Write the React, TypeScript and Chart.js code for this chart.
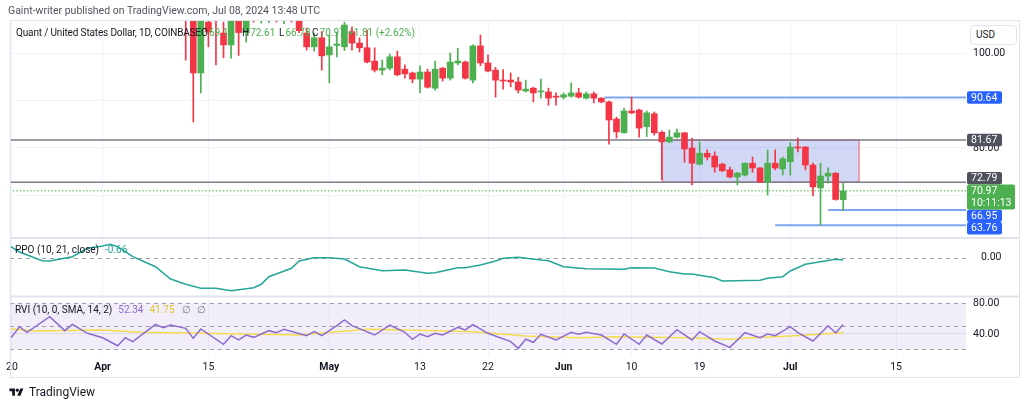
import React, { useEffect, useRef } from 'react';
import { Chart, registerables } from 'chart.js';

Chart.register(...registerables);

const FONT = 'Roboto, "Noto Sans", sans-serif';
const UP = '#4caf50';
const DOWN = '#f23645';
const BLUE = '#2962ff';
const GRAYBOX = '#50535e';
const TEAL = '#26a69a';
const PURPLE = '#8e6bd0';
const YELLOW = '#f5dc4f';

// x axis: day index counted from 2024-04-01 (= 0)
const X_MIN = -12.27;
const X_MAX = 114.25;
const tickDays = [-12, 0, 14, 30, 42, 51, 61, 70, 79, 91, 105];
const tickLabels = ['20', 'Apr', '15', 'May', '13', '22', 'Jun', '10', '19', 'Jul', '15'];
const monthLabels = ['Apr', 'May', 'Jun', 'Jul'];

// daily candles QNT/USD
const candleDays = [
  11, 12, 13, 14, 15, 16, 17, 18, 19, 20,
  21, 22, 23, 24, 25, 26, 27, 28, 29, 30,
  31, 32, 33, 34, 35, 36, 37, 38, 39, 40,
  41, 42, 43, 44, 45, 46, 47, 48, 49, 50,
  51, 52, 53, 54, 55, 56, 57, 58, 59, 60,
  61, 62, 63, 64, 65, 66, 67, 68, 69, 70,
  71, 72, 73, 74, 75, 76, 77, 78, 79, 80,
  81, 82, 83, 84, 85, 86, 87, 88, 89, 90,
  91, 92, 93, 94, 95, 96, 97, 98,
];
const opens = [
  118, 108, 95.8, 106.5, 109, 104.2, 101.7, 107.5, 104.3, 109,
  107, 108, 110, 107.5, 109, 108.5, 104.2, 101.3, 103.2, 99.6,
  101.6, 101.3, 104.5, 102.1, 101.1, 98.3, 96.4, 96.8, 99.2, 96.6,
  95.8, 94.5, 96, 92.6, 96.8, 94.7, 97.9, 98.1, 94.3, 101.5,
  97.9, 96.4, 94.3, 94.3, 93.9, 92.0, 92.6, 91.8, 91.8, 90.9,
  90.7, 90.9, 91.6, 90.5, 91.4, 90.5, 89.7, 86.1, 83.2, 87.8,
  88, 84.5, 87.2, 83.3, 81.3, 82.3, 83.2, 80, 76.6, 78.9,
  78.3, 76.6, 75.4, 73.9, 74.3, 76.8, 75.8, 72.8, 76.8, 75.6,
  77.1, 80.2, 80.2, 76.4, 71.6, 74.1, 74.7, 69.12,
];
const highs = [
  120, 109, 110, 109, 110, 106.5, 108, 108.5, 108, 110,
  109, 110, 111, 110, 110, 109.5, 105.3, 104.2, 104.5, 103.8,
  104.4, 106.5, 105.5, 103.2, 104.8, 101.1, 98.5, 99.8, 100.4, 97.5,
  96, 97.3, 96.6, 98.3, 97, 100, 101, 98.3, 101.7, 103.8,
  99.6, 97, 96.5, 95.8, 94.9, 94.3, 92.8, 94.5, 92.6, 91.6,
  91.6, 93.7, 92.6, 91.8, 91.8, 90.6, 89.9, 86.5, 88.4, 90.7,
  88.2, 87.8, 87.6, 83.6, 83.8, 84, 83.3, 82.1, 81.3, 79.6,
  79.2, 76.8, 76, 74.9, 76.9, 78.1, 75.9, 79.6, 79.6, 78.1,
  81.1, 82.1, 80.3, 76.8, 76.8, 75.8, 74.8, 72.61,
];
const lows = [
  98.5, 85.5, 91.6, 101.3, 97.5, 99, 98.9, 99.5, 102.3, 106.5,
  106.3, 106.4, 106.5, 106.2, 106.5, 104.3, 100.6, 100.4, 96.4, 93.7,
  99.2, 100.5, 100.6, 100.2, 97.9, 96, 95.4, 96.4, 95.2, 94.7,
  93.7, 91.6, 92.6, 92.2, 94.1, 94.3, 97.5, 94.5, 93.7, 97.3,
  96, 90.7, 92.4, 92.9, 91.6, 91.8, 89.7, 90.5, 89, 89,
  90.3, 90.7, 90.5, 90.3, 89.5, 89.5, 80.8, 82.1, 83.1, 87.2,
  82.3, 82.4, 82.7, 73.3, 81.1, 82.1, 77, 72.2, 76.4, 77.5,
  74.9, 75, 73.7, 72.2, 74.1, 74.9, 72.7, 70.1, 75.4, 74.3,
  74.3, 79.2, 75.4, 69.9, 63.76, 72.6, 69.0, 66.78,
];
const closes = [
  108, 95.8, 108, 104.4, 107.5, 101.7, 107.5, 104.3, 107.5, 106.8,
  108.5, 109, 108, 108.5, 107.2, 104.7, 101.3, 103.2, 99.4, 101.3,
  101.9, 105.9, 102.1, 101.1, 98.1, 96.4, 96.8, 99.2, 95.4, 95.6,
  94.5, 96, 92.8, 96.6, 94.7, 98.1, 98.3, 94.7, 101.5, 97.9,
  96.2, 94.3, 94.1, 93.9, 92.2, 92.4, 91.6, 92.0, 90.5, 90.7,
  91.2, 91.6, 90.7, 91.4, 90.5, 89.7, 85.9, 83.4, 87.8, 87.4,
  84.2, 87.4, 83.2, 81.3, 82.3, 83.2, 79.8, 76.8, 78.9, 78.1,
  76, 75.2, 73.9, 74.7, 76.8, 75.8, 72.8, 76.8, 75.8, 77.7,
  80.2, 80.0, 76.4, 71.8, 74.1, 74.7, 69.16, 70.97,
];

// PPO (10, 21, close)
const ppoDays = [-13, -12, -11, -8, -7, -4, -2, 0, 1, 2, 4, 7, 9, 11, 13, 15, 17, 20, 21, 22, 25, 26, 28, 30, 32, 34, 37, 40, 43, 44, 47, 48, 50, 52, 53, 55, 58, 59, 61, 64, 69, 70, 73, 75, 77, 78, 81, 82, 87, 88, 90, 91, 93, 95, 97, 98];
const ppoValues = [3.1, 2.68, 1.45, -0.84, -0.92, 0.21, 2.42, 3.03, 3.47, 2.84, 0.21, -2.42, -5.66, -7.05, -8.1, -8.1, -8.74, -7.95, -7.05, -5.05, -2.84, -0.92, -0.05, -0.05, -0.39, -2.42, -3.47, -3.29, -4.16, -4.0, -2.68, -2.68, -1.97, -0.92, -0.21, 0.05, -0.66, -0.84, -2.42, -2.95, -3.1, -2.68, -2.76, -3.74, -4.34, -4.34, -5.32, -6.18, -6.0, -5.47, -5.05, -3.55, -1.79, -1.1, -0.47, -0.66];
const ppoLevels = [0];

// RVI (10, 0, SMA, 14, 2)
const rviDays = [-13, -12, -11, -10, -7, -5, -4, -2, 0, 2, 3, 4, 7, 8, 9, 11, 12, 13, 16, 17, 18, 19, 20, 22, 23, 24, 27, 28, 29, 31, 32, 33, 36, 38, 40, 41, 42, 43, 44, 45, 47, 48, 49, 51, 54, 55, 56, 57, 58, 60, 62, 63, 64, 66, 68, 69, 71, 72, 74, 76, 78, 79, 81, 83, 85, 87, 88, 89, 91, 92, 94, 96, 97, 98];
const rviValues = [33, 36.5, 49.4, 42.2, 62.3, 44.3, 52.5, 40.9, 35.2, 24.9, 35.2, 30.1, 52.5, 48.1, 51.6, 47.3, 34.4, 46.5, 26.7, 37.8, 32.3, 38.7, 35.7, 44.3, 41.7, 46.1, 37.8, 43.0, 37.8, 50.7, 58.1, 50.7, 38.7, 51.6, 42.2, 33.2, 40, 36.5, 40.9, 38.7, 48.6, 45.2, 52, 40.9, 30.1, 21.5, 33.2, 29.3, 39.6, 32.3, 42.2, 39.6, 42.2, 38.7, 26.7, 40, 26.7, 38.7, 27.1, 45.6, 32.3, 43, 31, 22.8, 41.7, 35.2, 40, 37.8, 49.4, 41.7, 31, 50.7, 41.3, 52.34];
const rviSignalDays = [-13, -12, -9, 0, 5, 13, 26, 31, 35, 40, 49, 56, 63, 68, 77, 83, 87, 91, 98];
const rviSignalValues = [46.8, 46.5, 43.9, 45.2, 42.2, 40.9, 38.7, 43, 46.1, 45.2, 43, 37.4, 35.2, 36.5, 35.2, 33.2, 35.7, 37.4, 41.75];
const rviLevels = [80, 50, 20];

// drawings: horizontal levels
const levelValues = [90.64, 81.67, 72.79, 66.95, 63.76];
const levelStartDays = [66.4, X_MIN - 1, X_MIN - 1, 96, 89];
const levelColors = ['#7fa6f5', '#7b7e88', '#7b7e88', '#7fa6f5', '#7fa6f5'];
const levelLabelColors = [BLUE, GRAYBOX, GRAYBOX, BLUE, BLUE];
const lastPrice = 70.97;
const countdown = '10:11:13';
// rectangle zone
const rectDays = [74.06, 100.1];
const rectPrices = [81.67, 72.79];

// price scale ranges
const Y_MIN = 61.05;
const Y_MAX = 106.74;
const priceTicks = [70, 80, 90, 100];
const PPO_MIN = -10.26;
const PPO_MAX = 5.13;
const RVI_MIN = 12.9;
const RVI_MAX = 88.39;
const rviTicks = [40, 80];

// legend texts
const ohlcLetters = ['O', 'H', 'L', 'C'];
const ohlcValues = ['69.12', '72.61', '66.78', '70.97'];
const ohlcLetterX = [201, 242, 279, 312];
const changeText = '+1.81 (+2.62%)';

const FRAME_RIGHT = 1019;
const FRAME_BOTTOM = 378;

const panePlugin = {
  id: 'panes',
  beforeDatasetsDraw(chart: any) {
    const { ctx, chartArea } = chart;
    const { left, right } = chartArea;
    const r = chart.scales.yRVI;
    const p = chart.scales.yPPO;
    ctx.save();
    ctx.fillStyle = 'rgba(126,87,194,0.1)';
    const yT = r.getPixelForValue(rviLevels[0]);
    const yB = r.getPixelForValue(rviLevels[2]);
    ctx.fillRect(left, yT, right - left, yB - yT);
    ctx.strokeStyle = '#9a9da6';
    ctx.lineWidth = 1;
    ctx.setLineDash([4, 4]);
    const dash = (y: number) => {
      const yy = Math.round(y) + 0.5;
      ctx.beginPath();
      ctx.moveTo(left, yy);
      ctx.lineTo(right, yy);
      ctx.stroke();
    };
    rviLevels.forEach((v) => dash(r.getPixelForValue(v)));
    ppoLevels.forEach((v) => dash(p.getPixelForValue(v)));
    ctx.restore();
  },
  afterDraw(chart: any) {
    const { ctx, chartArea } = chart;
    const y = chart.scales.y;
    ctx.save();
    ctx.strokeStyle = '#e0e3eb';
    ctx.lineWidth = 2;
    [chart.scales.yPPO.top, chart.scales.yRVI.top].forEach((yy: number) => {
      ctx.beginPath();
      ctx.moveTo(chartArea.left, yy);
      ctx.lineTo(FRAME_RIGHT, yy);
      ctx.stroke();
    });
    ctx.lineWidth = 1;
    ctx.strokeRect(chartArea.left + 0.5, chartArea.top - 0.5, FRAME_RIGHT - chartArea.left, FRAME_BOTTOM - chartArea.top);

    const H = 12.5;
    const bx = chartArea.right + 1;
    const py = y.getPixelForValue(lastPrice);
    const gTop = py - 6.5;
    const gBot = gTop + 2 * H;
    const items = levelValues.map((v, i) => ({ v, c: y.getPixelForValue(v), color: levelLabelColors[i] }));
    const above = items.filter((it) => it.v > lastPrice).sort((a, b) => b.c - a.c);
    const below = items.filter((it) => it.v < lastPrice).sort((a, b) => a.c - b.c);
    let limit = gTop;
    above.forEach((it) => {
      it.c = Math.min(it.c, limit - H / 2);
      limit = it.c - H / 2;
    });
    limit = gBot;
    below.forEach((it) => {
      it.c = Math.max(it.c, limit + H / 2);
      limit = it.c + H / 2;
    });
    ctx.font = `10.5px ${FONT}`;
    ctx.textBaseline = 'middle';
    ctx.textAlign = 'left';
    [...above, ...below].forEach((it) => {
      ctx.fillStyle = it.color;
      ctx.beginPath();
      ctx.roundRect(bx, it.c - H / 2, 35, H, 2);
      ctx.fill();
      ctx.fillStyle = '#ffffff';
      ctx.fillText(it.v.toFixed(2), bx + 4, it.c + 0.5);
    });
    ctx.fillStyle = UP;
    ctx.beginPath();
    ctx.roundRect(bx, gTop, 48, 2 * H, 2);
    ctx.fill();
    ctx.fillStyle = '#ffffff';
    ctx.fillText(lastPrice.toFixed(2), bx + 4, gTop + H / 2 + 0.5);
    ctx.fillText(countdown, bx + 4, gTop + H * 1.5 + 0.5);
    ctx.restore();
  },
};

export default function App() {
  const ref = useRef<HTMLCanvasElement>(null);
  useEffect(() => {
    const canvas = ref.current;
    if (!canvas) return;
    const colors = candleDays.map((_, i) => (closes[i] >= opens[i] ? UP : DOWN));
    const lineDs = (data: any[], color: string, width: number, axis: string, order: number, extra: any = {}) => ({
      type: 'line',
      data,
      borderColor: color,
      borderWidth: width,
      pointRadius: 0,
      tension: 0,
      fill: false,
      yAxisID: axis,
      xAxisID: 'x',
      order,
      ...extra,
    });
    const datasets: any[] = [
      {
        type: 'bar',
        data: candleDays.map((d, i) => ({ x: d, y: [opens[i], closes[i]] })),
        backgroundColor: colors,
        borderWidth: 0,
        barThickness: 6,
        minBarLength: 1,
        grouped: false,
        yAxisID: 'y',
        xAxisID: 'x',
        order: 0,
      },
      {
        type: 'bar',
        data: candleDays.map((d, i) => ({ x: d, y: [lows[i], highs[i]] })),
        backgroundColor: colors,
        borderWidth: 0,
        barThickness: 1,
        grouped: false,
        yAxisID: 'y',
        xAxisID: 'x',
        order: 1,
      },
      lineDs(ppoDays.map((d, i) => ({ x: d, y: ppoValues[i] })), TEAL, 1.5, 'yPPO', 2),
      lineDs(rviSignalDays.map((d, i) => ({ x: d, y: rviSignalValues[i] })), YELLOW, 1.5, 'yRVI', 3),
      lineDs(rviDays.map((d, i) => ({ x: d, y: rviValues[i] })), PURPLE, 1.5, 'yRVI', 2),
      ...levelValues.map((v, i) =>
        lineDs([{ x: levelStartDays[i], y: v }, { x: X_MAX + 1, y: v }], levelColors[i], i === 1 || i === 2 ? 1.5 : 2, 'y', 4)
      ),
      lineDs([{ x: X_MIN - 1, y: lastPrice }, { x: X_MAX + 1, y: lastPrice }], UP, 1, 'y', 4, { borderDash: [1.5, 2] }),
      lineDs(
        [
          { x: rectDays[0], y: rectPrices[0] },
          { x: rectDays[1], y: rectPrices[0] },
        ],
        'rgba(0,0,0,0)',
        0,
        'y',
        6,
        { fill: '+1', backgroundColor: 'rgba(70,100,220,0.25)' }
      ),
      lineDs(
        [
          { x: rectDays[0], y: rectPrices[1] },
          { x: rectDays[1], y: rectPrices[1] },
        ],
        'rgba(0,0,0,0)',
        0,
        'y',
        6
      ),
      lineDs(
        [
          { x: rectDays[0], y: rectPrices[0] },
          { x: rectDays[1], y: rectPrices[0] },
          { x: rectDays[1], y: rectPrices[1] },
          { x: rectDays[0], y: rectPrices[1] },
          { x: rectDays[0], y: rectPrices[0] },
        ],
        'rgba(242,54,69,0.55)',
        1.5,
        'y',
        5
      ),
    ];
    const tickFont = { family: FONT, size: 10.5 };
    const yCommon = (weight: number, min: number, max: number, ticks: number[]) => ({
      type: 'linear',
      position: 'right',
      stack: 'panes',
      stackWeight: weight,
      min,
      max,
      afterBuildTicks: (s: any) => {
        s.ticks = ticks.map((v) => ({ value: v }));
      },
      afterFit: (s: any) => {
        s.width = 53;
      },
      ticks: {
        padding: 7,
        color: '#131722',
        font: tickFont,
        callback: (v: any) => Number(v).toFixed(2),
      },
      border: { display: false },
      grid: { color: '#f0f3fa', drawTicks: false },
    });
    const chart = new Chart(canvas, {
      type: 'bar',
      data: { datasets },
      plugins: [panePlugin],
      options: {
        responsive: false,
        animation: false,
        devicePixelRatio: 1,
        layout: { padding: { left: 7, top: 21, right: 5, bottom: 28 }, autoPadding: false },
        plugins: {
          legend: { display: false },
          tooltip: { enabled: false },
        },
        scales: {
          x: {
            type: 'linear',
            position: 'bottom',
            offset: false,
            min: X_MIN,
            max: X_MAX,
            afterBuildTicks: (s: any) => {
              s.ticks = tickDays.map((v) => ({ value: v }));
            },
            afterFit: (s: any) => {
              s.height = 23;
            },
            ticks: {
              autoSkip: false,
              maxRotation: 0,
              padding: 6,
              color: '#131722',
              font: (c: any) => ({
                family: FONT,
                size: 10.5,
                weight: c.tick && monthLabels.includes(tickLabels[tickDays.indexOf(c.tick.value)]) ? 'bold' : 'normal',
              }),
              callback: (v: any) => {
                const i = tickDays.indexOf(Number(v));
                return i >= 0 ? tickLabels[i] : '';
              },
            },
            border: { display: false },
            grid: { color: '#f0f3fa', drawTicks: false, offset: false },
          },
          y: yCommon(217, Y_MIN, Y_MAX, priceTicks),
          yPPO: { ...yCommon(58.5, PPO_MIN, PPO_MAX, ppoLevels), grid: { display: false } },
          yRVI: {
            ...yCommon(58.5, RVI_MIN, RVI_MAX, rviTicks),
            grid: { drawTicks: false, color: (c: any) => (c.tick && c.tick.value === 80 ? 'rgba(0,0,0,0)' : '#ebe8f3') },
          },
        },
      } as any,
    } as any);
    return () => chart.destroy();
  }, []);

  const abs = (left: number, top: number, extra: any = {}) => ({
    position: 'absolute' as const,
    left,
    top,
    whiteSpace: 'nowrap' as const,
    lineHeight: '12px',
    ...extra,
  });

  return (
    <div style={{ position: 'absolute', left: 0, top: 0, width: 1024, height: 406, background: '#fff', overflow: 'hidden', fontFamily: FONT }}>
      <canvas ref={ref} width={1024} height={406} style={{ position: 'absolute', left: 0, top: 0, width: 1024, height: 406 }} />
      <div style={abs(8, 5, { fontSize: 10.5, color: '#50535e' })}>Gaint-writer published on TradingView.com, Jul 08, 2024 13:48 UTC</div>
      <div style={abs(16, 27, { fontSize: 10, color: '#131722', letterSpacing: -0.15 })}>Quant / United States Dollar, 1D, COINBASE</div>
      {ohlcLetters.map((l, i) => (
        <div key={l} style={abs(ohlcLetterX[i], 27, { fontSize: 10, color: '#131722' })}>
          {l}
          <span style={{ color: UP, marginLeft: 1 }}>{ohlcValues[i]}</span>
        </div>
      ))}
      <div style={abs(348, 27, { fontSize: 10, color: UP })}>{changeText}</div>
      <div style={abs(970, 25, { width: 45, height: 18, border: '1px solid #e0e3eb', borderRadius: 4, background: '#fff', fontSize: 10, color: '#131722', lineHeight: '18px', textIndent: 5 })}>USD</div>
      <div style={abs(15, 244, { fontSize: 10, color: '#131722' })}>
        <span>PPO (10, 21, close)</span>
        <span style={{ color: TEAL, marginLeft: 6 }}>-0.66</span>
      </div>
      <div style={abs(15, 304, { fontSize: 10, color: '#131722' })}>
        <span>RVI (10, 0, SMA, 14, 2)</span>
        <span style={{ color: PURPLE, marginLeft: 6 }}>52.34</span>
        <span style={{ color: '#e0c530', marginLeft: 6 }}>41.75</span>
        <span style={{ color: '#787b86', marginLeft: 7 }}>∅</span>
        <span style={{ color: '#787b86', marginLeft: 6 }}>∅</span>
      </div>
      <div style={abs(8, 386, { display: 'flex', alignItems: 'center', fontSize: 12, color: '#131722' })}>
        <svg width="17" height="11" viewBox="0 0 36 28" style={{ marginRight: 4 }}>
          <path d="M14 22H7V11H0V4h14v18zM28 22h-8l7.5-18h8L28 22z" fill="#131722" />
          <circle cx="20" cy="8" r="4" fill="#131722" />
        </svg>
        <span>TradingView</span>
      </div>
    </div>
  );
}
